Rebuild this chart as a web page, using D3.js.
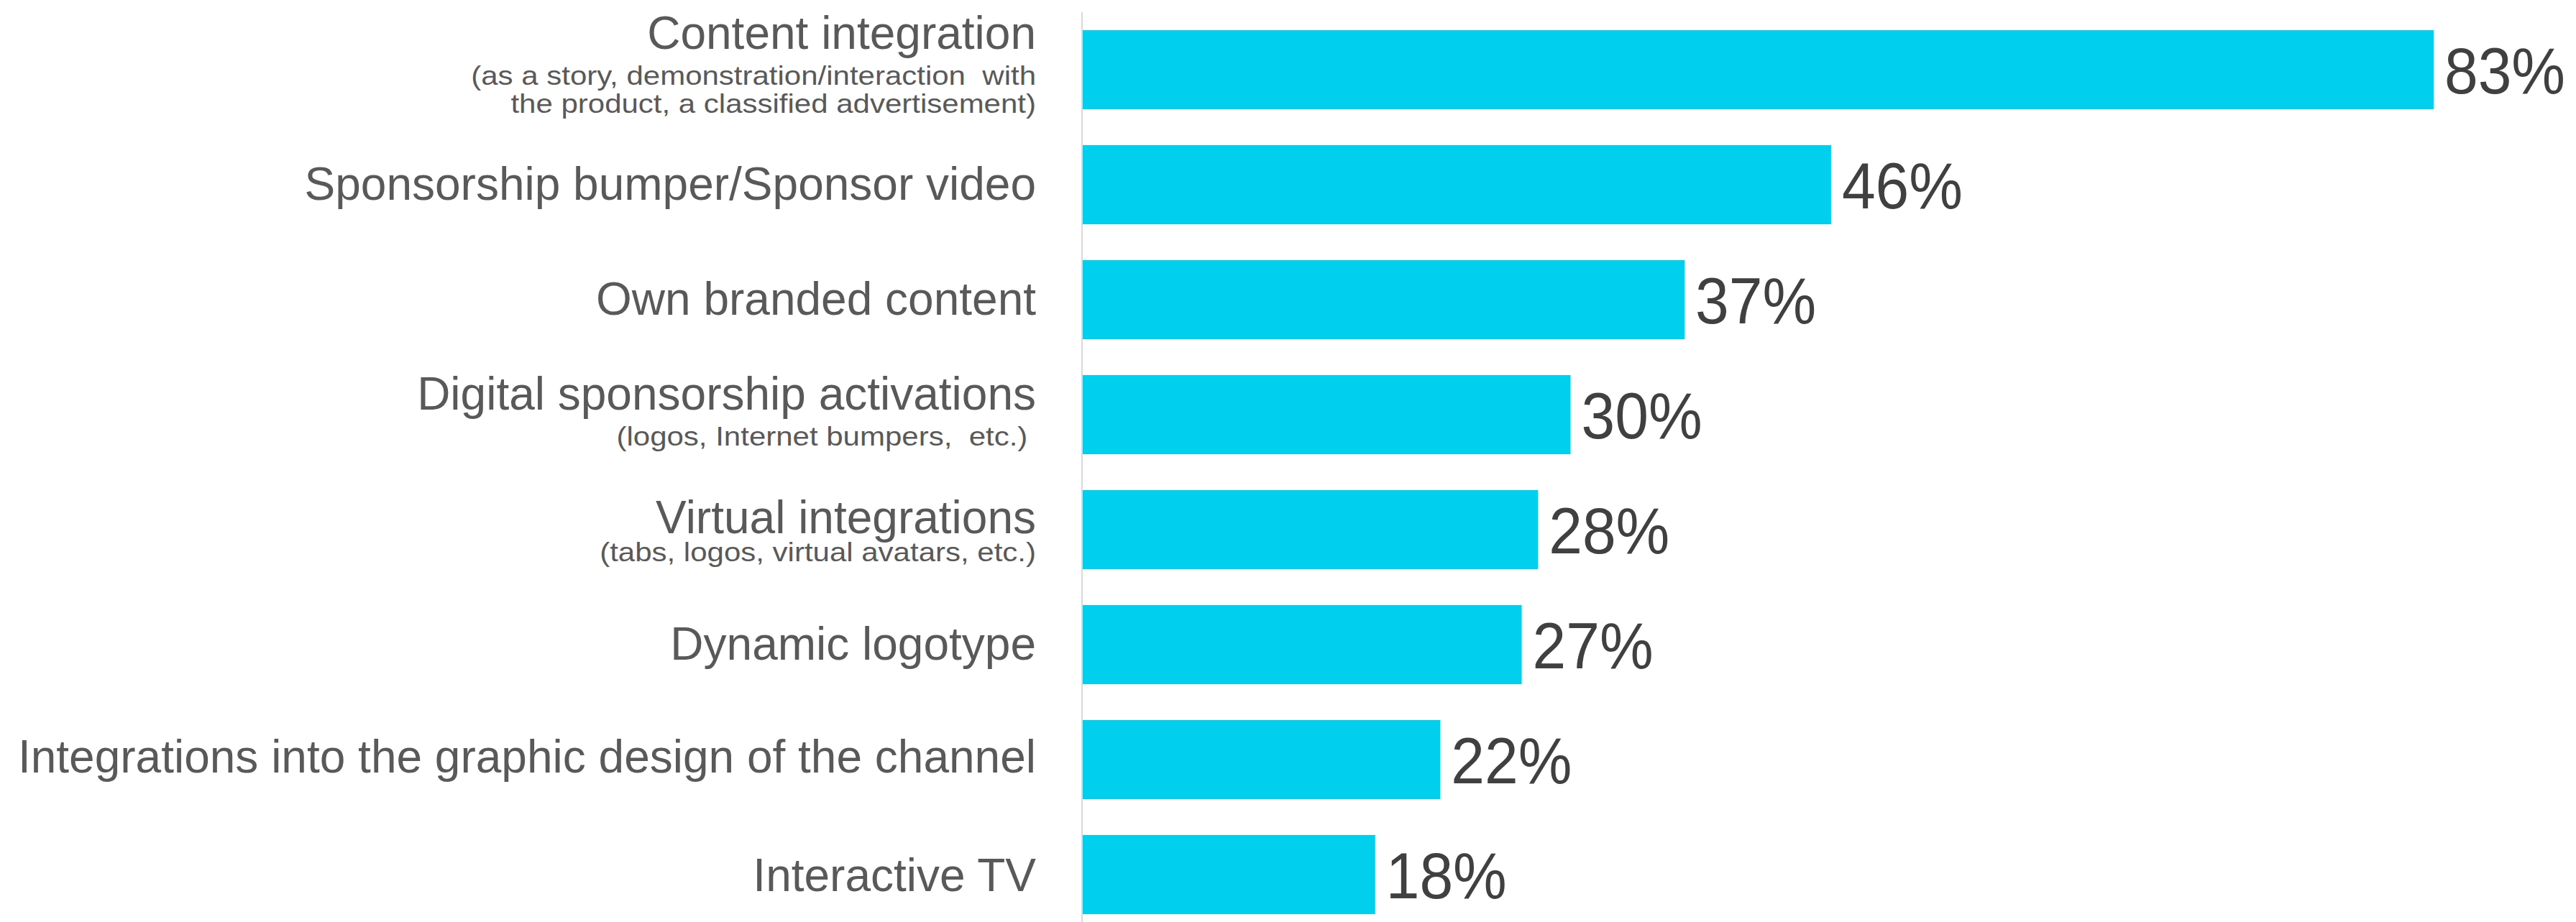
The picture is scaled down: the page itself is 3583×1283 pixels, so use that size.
<!DOCTYPE html>
<html>
<head>
<meta charset="utf-8">
<script src="https://cdn.jsdelivr.net/npm/d3@7"></script>
<style>
  html, body { margin: 0; padding: 0; background: #ffffff; }
  svg { display: block; }
  text { font-family: "Liberation Sans", Arial, Helvetica, sans-serif; white-space: pre; }
</style>
</head>
<body>
<svg id="chart" width="3583" height="1283"></svg>
<script>
// Share of respondents using each integration format (%)
const categories = [
  "Content integration",
  "Sponsorship bumper/Sponsor video",
  "Own branded content",
  "Digital sponsorship activations",
  "Virtual integrations",
  "Dynamic logotype",
  "Integrations into the graphic design of the channel",
  "Interactive TV"
];
const notes = [
  ["(as a story, demonstration/interaction  with", "the product, a classified advertisement)"],
  [],
  [],
  ["(logos, Internet bumpers,  etc.) "],
  ["(tabs, logos, virtual avatars, etc.)"],
  [],
  [],
  []
];
const values = [83, 46, 37, 30, 28, 27, 22, 18];

// Layout
const W = 3583, H = 1283;
const axisX = 1505;
const labelX = 1441;
const barColor = "#00cfee";
const labelColor = "#595959";
const valueColor = "#404040";

// Baseline offsets (from bar centre) for the main label and its note lines
const mainOffset = [-29, 21, 21, -7, 5, 21, 18, 23];
const noteOffsets = [[21, 60], [], [], [43], [44], [], [], []];

const svg = d3.select("#chart");

const x = d3.scaleLinear().domain([0, 100]).range([axisX, axisX + 2265]);
const y = d3.scaleBand()
  .domain(categories)
  .range([17, 1297])
  .paddingInner(0.3125)
  .paddingOuter(0.15625);

const rows = categories.map((c, i) => ({ c, v: values[i], notes: notes[i], i }));
const mid = d => y(d.c) + y.bandwidth() / 2;

// Bars
svg.append("g")
  .selectAll("rect")
  .data(rows)
  .join("rect")
  .attr("x", x(0))
  .attr("y", d => y(d.c))
  .attr("width", d => x(d.v) - x(0))
  .attr("height", y.bandwidth())
  .attr("fill", barColor);

// Vertical baseline axis
svg.append("line")
  .attr("x1", axisX).attr("x2", axisX)
  .attr("y1", 17).attr("y2", H)
  .attr("stroke", "#d9d9d9")
  .attr("stroke-width", 2);

// Category labels with optional smaller note lines
const lab = svg.append("g").attr("text-anchor", "end");
rows.forEach(d => {
  const cy = mid(d);
  lab.append("text")
    .attr("x", labelX)
    .attr("y", cy + mainOffset[d.i])
    .attr("font-size", 64)
    .attr("fill", labelColor)
    .text(d.c);
  d.notes.forEach((n, k) => {
    lab.append("text")
      .attr("transform", `translate(${labelX},${cy + noteOffsets[d.i][k]}) scale(1,0.87)`)
      .attr("font-size", 42)
      .attr("fill", labelColor)
      .text(n);
  });
});

// Value labels
svg.append("g")
  .selectAll("text")
  .data(rows)
  .join("text")
  .attr("transform", d => `translate(${x(d.v) + 15},${mid(d) + 33}) scale(1,1.08)`)
  .attr("font-size", 84)
  .attr("fill", valueColor)
  .text(d => d.v + "%");
</script>
</body>
</html>
